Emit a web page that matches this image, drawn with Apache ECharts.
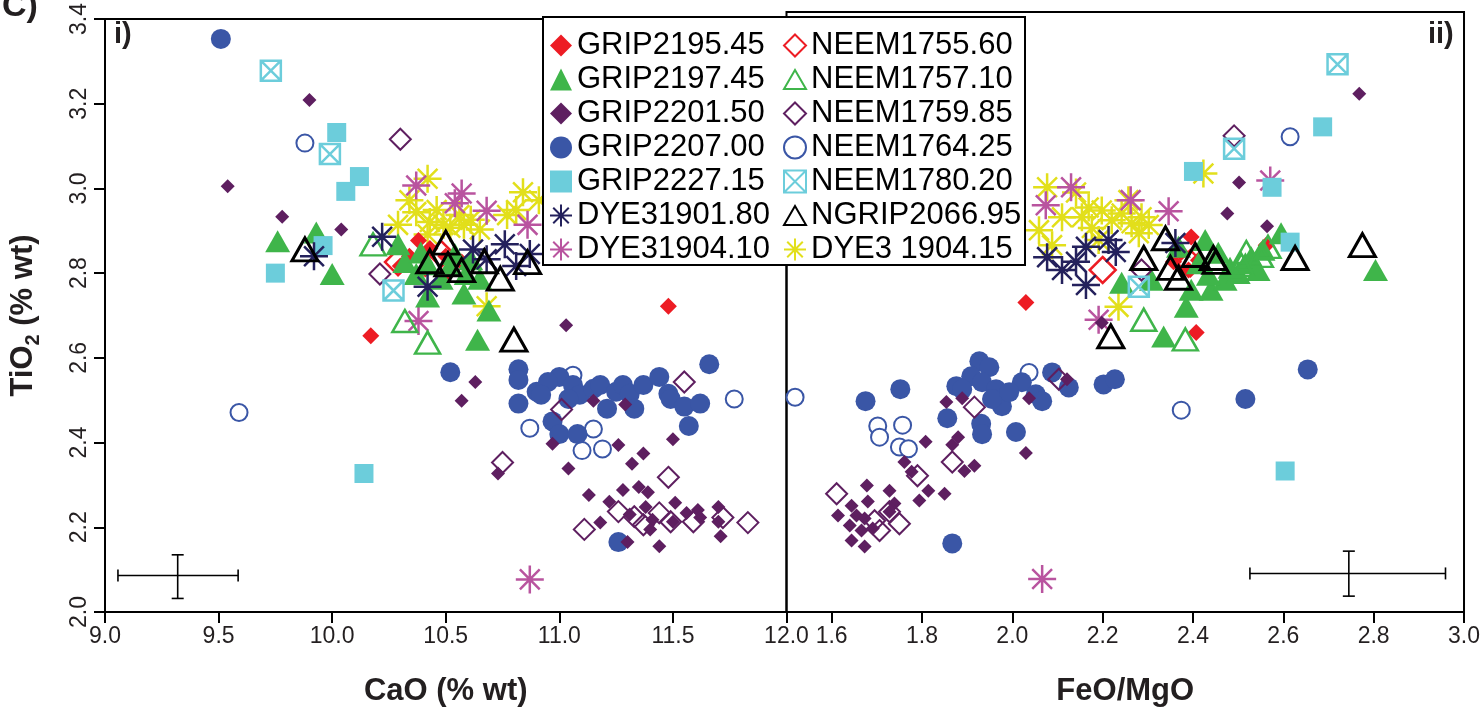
<!DOCTYPE html>
<html><head><meta charset="utf-8">
<script src="https://cdn.jsdelivr.net/npm/echarts@6/dist/echarts.min.js"></script>
<style>html,body{margin:0;padding:0;background:#fff}#c{width:1483px;height:712px}</style>
</head><body><div id="c"></div>
<script>
// ---------- tick labels ----------
const tio2Ticks = [2.0, 2.2, 2.4, 2.6, 2.8, 3.0, 3.2, 3.4];
const caoTicks = [9.0, 9.5, 10.0, 10.5, 11.0, 11.5, 12.0];
const feMgTicks = [1.6, 1.8, 2.0, 2.2, 2.4, 2.6, 2.8, 3.0];

// ---------- legend order ----------
const legendCol1 = ['GRIP2195.45','GRIP2197.45','GRIP2201.50','GRIP2207.00','GRIP2227.15','DYE31901.80','DYE31904.10'];
const legendCol2 = ['NEEM1755.60','NEEM1757.10','NEEM1759.85','NEEM1764.25','NEEM1780.20','NGRIP2066.95','DYE3 1904.15'];

// ---------- data: [CaO, TiO2] (panel i) and [FeO/MgO, TiO2] (panel ii) ----------
const grip219545CaO = [[10.17,2.652],[11.48,2.722],[10.38,2.877],[10.43,2.858],[10.34,2.840],[10.50,2.840],[10.57,2.826],[10.30,2.817],[10.41,2.810],[10.51,2.803]];
const grip219545FeMg = [[2.030,2.722],[2.407,2.652],[2.396,2.875],[2.372,2.840],[2.390,2.798],[2.412,2.821],[2.562,2.856],[2.357,2.817]];

const grip219745CaO = [[9.76,2.875],[9.93,2.896],[10.00,2.798],[10.58,2.752],[10.69,2.712],[10.64,2.643],[10.29,2.868],[10.32,2.826],[10.37,2.798],[10.42,2.821],[10.48,2.787],[10.42,2.745],[10.52,2.817],[10.59,2.798],[10.65,2.787],[10.54,2.845],[10.61,2.833],[10.39,2.849]];
const grip219745FeMg = [[2.595,2.884],[2.804,2.798],[2.385,2.712],[2.335,2.643],[2.396,2.752],[2.440,2.752],[2.471,2.775],[2.500,2.791],[2.242,2.768],[2.308,2.775],[2.412,2.814],[2.516,2.814],[2.529,2.828],[2.456,2.838],[2.427,2.868],[2.368,2.852],[2.555,2.845],[2.482,2.803],[2.434,2.787],[2.544,2.798]];

const grip220150CaO = [[9.90,3.209],[9.54,3.005],[9.78,2.933],[10.04,2.903],[11.03,2.677],[10.63,2.543],[10.57,2.499],[11.15,2.499],[11.29,2.490],[10.97,2.397],[11.04,2.339],[11.26,2.394],[11.37,2.374],[11.32,2.350],[11.50,2.408],[10.73,2.327],[11.13,2.276],[11.22,2.260],[11.28,2.288],[11.35,2.295],[11.39,2.283],[11.38,2.248],[11.31,2.230],[11.41,2.218],[11.18,2.211],[11.51,2.258],[11.56,2.234],[11.61,2.241],[11.70,2.248],[11.70,2.213],[11.71,2.179],[11.50,2.213],[11.40,2.195],[11.44,2.155],[11.30,2.165],[11.62,2.223]];
const grip220150FeMg = [[2.768,3.209],[2.502,3.002],[2.476,2.930],[2.564,2.900],[2.198,2.675],[2.030,2.371],[1.854,2.490],[1.889,2.499],[2.037,2.499],[2.121,2.543],[1.808,2.397],[1.761,2.350],[1.777,2.327],[1.880,2.408],[1.867,2.390],[1.916,2.341],[1.894,2.329],[1.814,2.283],[1.794,2.260],[1.850,2.276],[1.678,2.295],[1.728,2.283],[1.614,2.225],[1.644,2.248],[1.655,2.225],[1.680,2.258],[1.673,2.218],[1.640,2.202],[1.666,2.190],[1.644,2.167],[1.673,2.153],[1.691,2.195],[1.728,2.234],[1.739,2.253]];

const grip220700CaO = [[9.51,3.353],[10.52,2.566],[10.82,2.573],[10.82,2.548],[10.82,2.492],[10.90,2.520],[11.00,2.555],[10.97,2.450],[11.00,2.420],[11.08,2.420],[11.06,2.536],[11.09,2.513],[11.15,2.527],[11.18,2.536],[11.21,2.480],[11.25,2.520],[11.28,2.536],[11.31,2.515],[11.33,2.480],[11.37,2.536],[11.44,2.555],[11.48,2.515],[11.49,2.503],[11.55,2.485],[11.62,2.492],[11.57,2.439],[11.66,2.585],[10.95,2.543],[11.04,2.503],[10.92,2.513],[11.26,2.165]];
const grip220700FeMg = [[2.654,2.566],[2.516,2.497],[1.867,2.160],[1.675,2.492],[1.752,2.520],[1.856,2.452],[1.876,2.527],[1.927,2.585],[1.949,2.571],[1.909,2.550],[1.889,2.520],[1.933,2.536],[1.964,2.520],[1.977,2.480],[1.931,2.439],[1.933,2.415],[2.008,2.420],[2.021,2.536],[2.052,2.508],[2.066,2.492],[2.088,2.559],[2.125,2.524],[2.202,2.531],[1.955,2.497],[1.993,2.513],[2.227,2.543]];

const grip222715CaO = [[10.02,3.132],[10.06,2.993],[10.12,3.028],[9.75,2.800],[9.96,2.865],[10.14,2.327]];
const grip222715FeMg = [[2.687,3.132],[2.575,2.991],[2.615,2.863],[2.401,3.028],[2.604,2.329]];

const dye3190180CaO = [[10.22,2.886],[9.92,2.840],[10.42,2.768],[10.62,2.856],[10.76,2.868],[10.81,2.817],[10.87,2.845],[10.68,2.833]];
const dye3190180FeMg = [[2.077,2.828],[2.110,2.798],[2.141,2.817],[2.163,2.852],[2.163,2.763],[2.213,2.868],[2.229,2.840],[2.361,2.861]];

const dye3190410CaO = [[10.37,3.007],[10.57,2.988],[10.68,2.947],[10.86,2.914],[10.38,2.687],[10.87,2.077],[10.54,2.965]];
const dye3190410FeMg = [[2.130,2.991],[2.262,2.961],[2.346,2.935],[2.191,2.682],[2.571,3.007],[2.066,2.077],[2.074,2.949]];

const neem175560CaO = [[10.29,2.826],[10.48,2.845]];
const neem175560FeMg = [[2.200,2.798],[2.394,2.814]];

const neem175710CaO = [[10.18,2.868],[10.32,2.687],[10.42,2.636]];
const neem175710FeMg = [[2.291,2.682],[2.383,2.636],[2.518,2.840],[2.549,2.831],[2.507,2.810],[2.566,2.852]];

const neem175985CaO = [[10.30,3.116],[10.21,2.798],[11.55,2.543],[11.01,2.478],[10.75,2.353],[11.48,2.318],[11.11,2.195],[11.26,2.237],[11.33,2.225],[11.44,2.234],[11.49,2.213],[11.59,2.213],[11.72,2.223],[11.83,2.211],[11.37,2.206]];
const neem175985FeMg = [[2.491,3.111],[2.286,2.798],[2.103,2.543],[1.916,2.478],[1.867,2.350],[1.790,2.318],[1.611,2.276],[1.728,2.234],[1.750,2.206],[1.706,2.190],[1.695,2.213]];

const neem176425CaO = [[9.88,3.107],[9.59,2.471],[11.77,2.503],[11.06,2.559],[10.87,2.434],[11.15,2.432],[11.10,2.381],[11.19,2.385]];
const neem176425FeMg = [[1.519,2.501],[1.702,2.434],[1.706,2.408],[1.757,2.436],[1.750,2.385],[1.770,2.381],[2.037,2.559],[2.615,3.109],[2.374,2.471]];

const neem178020CaO = [[9.73,3.278],[9.99,3.081],[10.27,2.759]];
const neem178020FeMg = [[2.720,3.278],[2.491,3.081],[2.280,2.759]];

const ngrip206695CaO = [[9.88,2.856],[10.50,2.872],[10.43,2.828],[10.57,2.807],[10.74,2.787],[10.86,2.826],[10.80,2.643],[10.67,2.828],[10.51,2.821]];
const ngrip206695FeMg = [[2.218,2.643],[2.291,2.826],[2.339,2.872],[2.350,2.803],[2.368,2.780],[2.405,2.833],[2.445,2.826],[2.626,2.826],[2.775,2.856],[2.451,2.817]];

const dye3190415CaO = [[10.42,3.023],[10.29,2.914],[10.37,2.944],[10.43,2.921],[10.46,2.949],[10.52,2.907],[10.58,2.914],[10.61,2.926],[10.56,2.937],[10.49,2.914],[10.42,2.891],[10.68,2.722],[10.84,2.991],[10.77,2.937],[10.81,2.949],[10.91,2.972],[10.34,2.972],[10.65,2.903]];
const dye3190415FeMg = [[2.077,2.991],[2.141,2.979],[2.059,2.891],[2.110,2.921],[2.154,2.921],[2.176,2.896],[2.198,2.937],[2.220,2.914],[2.242,2.930],[2.264,2.907],[2.280,2.884],[2.286,2.921],[2.235,2.712],[2.088,2.856],[2.169,2.944],[2.257,2.961],[2.423,3.023],[2.191,2.868],[2.302,2.903]];

// ---------- analytical uncertainty crosses: [x, y, xLow, xHigh, yLow, yHigh] ----------
const errorCaO = [[9.32, 2.086, 9.057, 9.586, 2.032, 2.135]];
const errorFeMg = [[2.745, 2.090, 2.526, 2.959, 2.037, 2.142]];

// ---------- styles (separate from data) ----------
const STAR = 'path://M0,-10L0,10M-10,0L10,0M-7.07,-7.07L7.07,7.07M-7.07,7.07L7.07,-7.07';
const XSQ = 'path://M-10,-10L10,-10L10,10L-10,10ZM-10,-10L10,10M10,-10L-10,10';
const HDIA = 'path://M0,-10L10,0L0,10L-10,0Z';
const HTRI = 'path://M0,-10L11,9L-11,9Z';

const samples = [ // drawing order, bottom to top
  {name:'DYE3 1904.15', left:dye3190415CaO, right:dye3190415FeMg, symbol:STAR, size:28, fill:'#e2df1b', stroke:'#e2df1b', lw:2.5},
  {name:'DYE31904.10', left:dye3190410CaO, right:dye3190410FeMg, symbol:STAR, size:28, fill:'#b9549f', stroke:'#b9549f', lw:2.5},
  {name:'NEEM1764.25', left:neem176425CaO, right:neem176425FeMg, symbol:'emptyCircle', size:17, fill:'#3a56a6', stroke:'#3a56a6', lw:2.5},
  {name:'GRIP2207.00', left:grip220700CaO, right:grip220700FeMg, symbol:'circle', size:20, fill:'#3a56a6', stroke:'#3a56a6', lw:0},
  {name:'GRIP2195.45', left:grip219545CaO, right:grip219545FeMg, symbol:'diamond', size:17, fill:'#ed1c24', stroke:'#ed1c24', lw:0},
  {name:'NEEM1755.60', left:neem175560CaO, right:neem175560FeMg, symbol:HDIA, size:26, fill:'rgba(0,0,0,0)', stroke:'#ed1c24', lw:2.5},
  {name:'GRIP2197.45', left:grip219745CaO, right:grip219745FeMg, symbol:'triangle', size:[25,22], fill:'#3fb54a', stroke:'#3fb54a', lw:0},
  {name:'NEEM1757.10', left:neem175710CaO, right:neem175710FeMg, symbol:HTRI, size:[25,22], fill:'rgba(0,0,0,0)', stroke:'#3fb54a', lw:2.5},
  {name:'GRIP2227.15', left:grip222715CaO, right:grip222715FeMg, symbol:'rect', size:19, fill:'#6ccddb', stroke:'#6ccddb', lw:0},
  {name:'GRIP2201.50', left:grip220150CaO, right:grip220150FeMg, symbol:'diamond', size:14, fill:'#5e1f60', stroke:'#5e1f60', lw:0},
  {name:'NEEM1759.85', left:neem175985CaO, right:neem175985FeMg, symbol:HDIA, size:21, fill:'rgba(0,0,0,0)', stroke:'#5e1f60', lw:2},
  {name:'DYE31901.80', left:dye3190180CaO, right:dye3190180FeMg, symbol:STAR, size:28, fill:'#24215c', stroke:'#24215c', lw:2.5},
  {name:'NEEM1780.20', left:neem178020CaO, right:neem178020FeMg, symbol:XSQ, size:20, fill:'rgba(255,255,255,0)', stroke:'#6ccddb', lw:2.5},
  {name:'NGRIP2066.95', left:ngrip206695CaO, right:ngrip206695FeMg, symbol:HTRI, size:[26,23], fill:'rgba(0,0,0,0)', stroke:'#000000', lw:3}
];

const FONT = 'Liberation Sans, Arial, Helvetica, sans-serif';
const NARROW = '"Liberation Sans Narrow", "Arial Narrow", "Liberation Sans", Arial, sans-serif';
const series = [];
samples.forEach(s => {
  [['left',0],['right',1]].forEach(([k, idx]) => {
    series.push({
      type:'scatter', name:s.name, xAxisIndex:idx, yAxisIndex:idx,
      data:s[k], symbol:s.symbol, symbolSize:s.size,
      itemStyle:{color:s.fill, borderColor:s.stroke, borderWidth:s.lw, opacity:1},
      emphasis:{disabled:true}, silent:true, clip:true
    });
  });
});

function errRender(params, api) {
  const c = api.coord([api.value(0), api.value(1)]);
  const xl = api.coord([api.value(2), api.value(1)]);
  const xr = api.coord([api.value(3), api.value(1)]);
  const yb = api.coord([api.value(0), api.value(4)]);
  const yt = api.coord([api.value(0), api.value(5)]);
  const st = {stroke:'#000', lineWidth:1.6};
  const cap = 6;
  const L = (x1,y1,x2,y2) => ({type:'line', shape:{x1,y1,x2,y2}, style:st});
  return {type:'group', children:[
    L(xl[0], c[1], xr[0], c[1]),
    L(xl[0], c[1]-cap, xl[0], c[1]+cap),
    L(xr[0], c[1]-cap, xr[0], c[1]+cap),
    L(c[0], yb[1], c[0], yt[1]),
    L(c[0]-cap, yb[1], c[0]+cap, yb[1]),
    L(c[0]-cap, yt[1], c[0]+cap, yt[1])
  ]};
}
series.push({type:'custom', xAxisIndex:0, yAxisIndex:0, data:errorCaO, renderItem:errRender, silent:true, z:1});
series.push({type:'custom', xAxisIndex:1, yAxisIndex:1, data:errorFeMg, renderItem:errRender, silent:true, z:1});

const fmt1 = v => Number(v).toFixed(1);
const axisLineSt = {show:true, lineStyle:{color:'#000', width:2}};
const tickSt = {show:true, inside:false, length:11, lineStyle:{color:'#000', width:2}};
const lblSt = {fontSize:23, color:'#231f20', fontFamily:NARROW, formatter:fmt1};
const nameSt = {fontSize:31, fontWeight:'bold', color:'#231f20', fontFamily:FONT};

const legendCommon = {
  orient:'vertical', top:30, padding:0, itemGap:3, itemWidth:22, itemHeight:22,
  selectedMode:false, z:5,
  textStyle:{fontSize:31, color:'#000', fontFamily:FONT, lineHeight:30}
};

const option = {
  animation:false,
  backgroundColor:'#fff',
  grid:[
    {left:105, top:12, width:681.5, height:602, show:true, borderColor:'#000', borderWidth:2, backgroundColor:'transparent', containLabel:false},
    {left:786.5, top:12, width:679.5, height:602, show:true, borderColor:'#000', borderWidth:2, backgroundColor:'transparent', containLabel:false}
  ],
  xAxis:[
    {type:'value', gridIndex:0, min:caoTicks[0], max:caoTicks[caoTicks.length-1], interval:0.5,
     axisLine:axisLineSt, axisTick:tickSt, splitLine:{show:false},
     axisLabel:Object.assign({margin:13, showMinLabel:true, showMaxLabel:true}, lblSt),
     name:'CaO (% wt)', nameLocation:'middle', nameGap:64, nameTextStyle:nameSt},
    {type:'value', gridIndex:1, min:1.5, max:3.0,
     axisLine:axisLineSt, axisTick:Object.assign({customValues:feMgTicks}, tickSt), splitLine:{show:false},
     axisLabel:Object.assign({margin:13, customValues:feMgTicks}, lblSt),
     name:'FeO/MgO', nameLocation:'middle', nameGap:64, nameTextStyle:nameSt}
  ],
  yAxis:[
    {type:'value', gridIndex:0, min:tio2Ticks[0], max:tio2Ticks[tio2Ticks.length-1], interval:0.2,
     axisLine:axisLineSt, axisTick:tickSt, splitLine:{show:false},
     axisLabel:Object.assign({margin:14, rotate:90, showMinLabel:true, showMaxLabel:true}, lblSt),
     name:'{m|TiO}{s|2}{m| (% wt)}', nameLocation:'middle', nameGap:62,
     nameTextStyle:{fontFamily:FONT, rich:{
       m:{fontSize:31, fontWeight:'bold', color:'#231f20', fontFamily:FONT, lineHeight:40, verticalAlign:'middle'},
       s:{fontSize:20, fontWeight:'bold', color:'#231f20', fontFamily:FONT, lineHeight:40, verticalAlign:'bottom'}
     }}},
    {type:'value', gridIndex:1, min:2.0, max:3.4, interval:0.2,
     axisLine:{show:false}, axisTick:{show:false}, axisLabel:{show:false}, splitLine:{show:false}}
  ],
  legend:[
    Object.assign({left:549, data:legendCol1}, legendCommon),
    Object.assign({left:783, data:legendCol2}, legendCommon)
  ],
  graphic:[
    {type:'rect', z:3, shape:{x:543, y:17, width:482, height:248}, style:{fill:'#fff', stroke:'#000', lineWidth:2}},
    {type:'text', z:6, x:2, y:-10, style:{text:'C)', font:'bold 34px ' + FONT, fill:'#231f20'}},
    {type:'text', z:6, x:114, y:20, style:{text:'i)', font:'bold 29px ' + FONT, fill:'#231f20'}},
    {type:'text', z:6, x:1428, y:20, style:{text:'ii)', font:'bold 29px ' + FONT, fill:'#231f20'}}
  ],
  series:series
};

const chart = echarts.init(document.getElementById('c'), null, {renderer:'canvas'});
chart.setOption(option);
</script>
</body></html>
